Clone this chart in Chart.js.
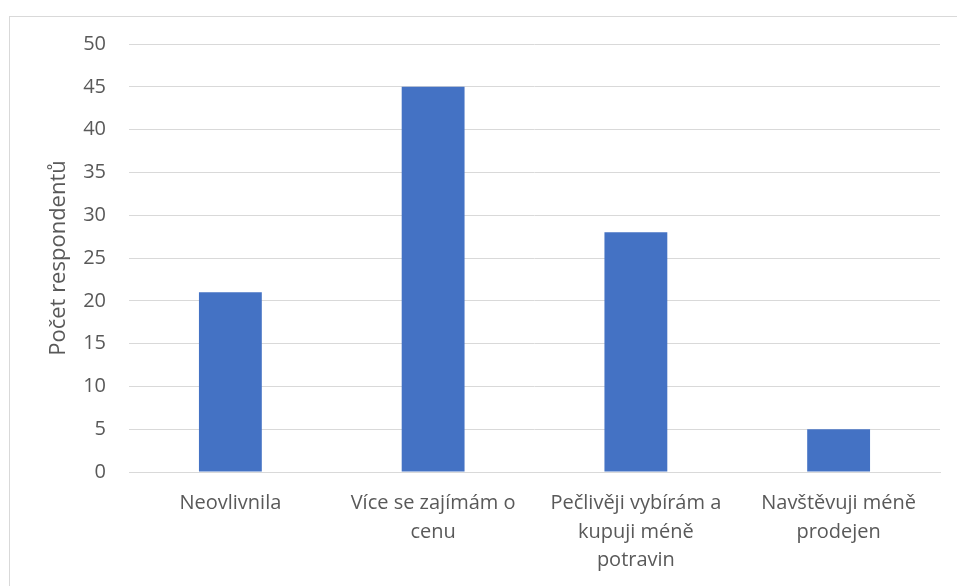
<!DOCTYPE html>
<html>
<head>
<meta charset="utf-8">
<script src="https://cdn.jsdelivr.net/npm/chart.js@4"></script>
<style>
  html, body { margin: 0; padding: 0; background: #ffffff; overflow: hidden; }
  #wrap { position: absolute; left: 0; top: 0; width: 957px; height: 586px; }
  #frame { position: absolute; left: 9px; top: 16px; width: 960px; height: 600px; border: 1px solid #d9d9d9; box-sizing: border-box; pointer-events: none; }
  canvas { position: absolute; left: 0; top: 0; }
</style>
</head>
<body>
<div id="wrap">
  <div id="frame"></div>
  <canvas id="c" width="957" height="586"></canvas>
</div>
<script>
const categories = [
  ["Neovlivnila"],
  ["Více se zajímám o", "cenu"],
  ["Pečlivěji vybírám a", "kupuji méně", "potravin"],
  ["Navštěvuji méně", "prodejen"]
];
const values = [21, 45, 28, 5];
const yTitle = "Počet respondentů";
const yMin = 0, yMax = 50, yStep = 5;

const FONT = "'Open Sans', 'Noto Sans', sans-serif";
const TEXT = "#595959";
const GRID = "#d9d9d9";

new Chart(document.getElementById('c'), {
  type: 'bar',
  data: {
    labels: categories,
    datasets: [{
      data: values,
      backgroundColor: '#4472C4',
      borderWidth: 0,
      categoryPercentage: 1,
      barPercentage: 0.31
    }]
  },
  options: {
    responsive: false,
    animation: false,
    layout: { padding: { left: 0, top: 44, right: 17, bottom: 0 } },
    plugins: { legend: { display: false }, tooltip: { enabled: false } },
    scales: {
      x: {
        grid: { display: false, drawTicks: false },
        border: { display: true, color: GRID, width: 1 },
        ticks: {
          color: TEXT,
          font: { family: FONT, size: 20, lineHeight: 1.43 },
          padding: 17,
          maxRotation: 0,
          autoSkip: false
        },
        afterFit: s => { s.height = 114; }
      },
      y: {
        min: yMin, max: yMax,
        grid: { color: GRID, lineWidth: 1, drawTicks: false },
        border: { display: false },
        ticks: {
          stepSize: yStep,
          color: TEXT,
          font: { family: FONT, size: 20 },
          padding: 23
        },
        title: {
          display: true,
          text: yTitle,
          color: TEXT,
          font: { family: FONT, size: 22 },
          padding: { top: 46, bottom: 0 }
        },
        afterFit: s => { s.width = 129; }
      }
    }
  }
});
</script>
</body>
</html>
